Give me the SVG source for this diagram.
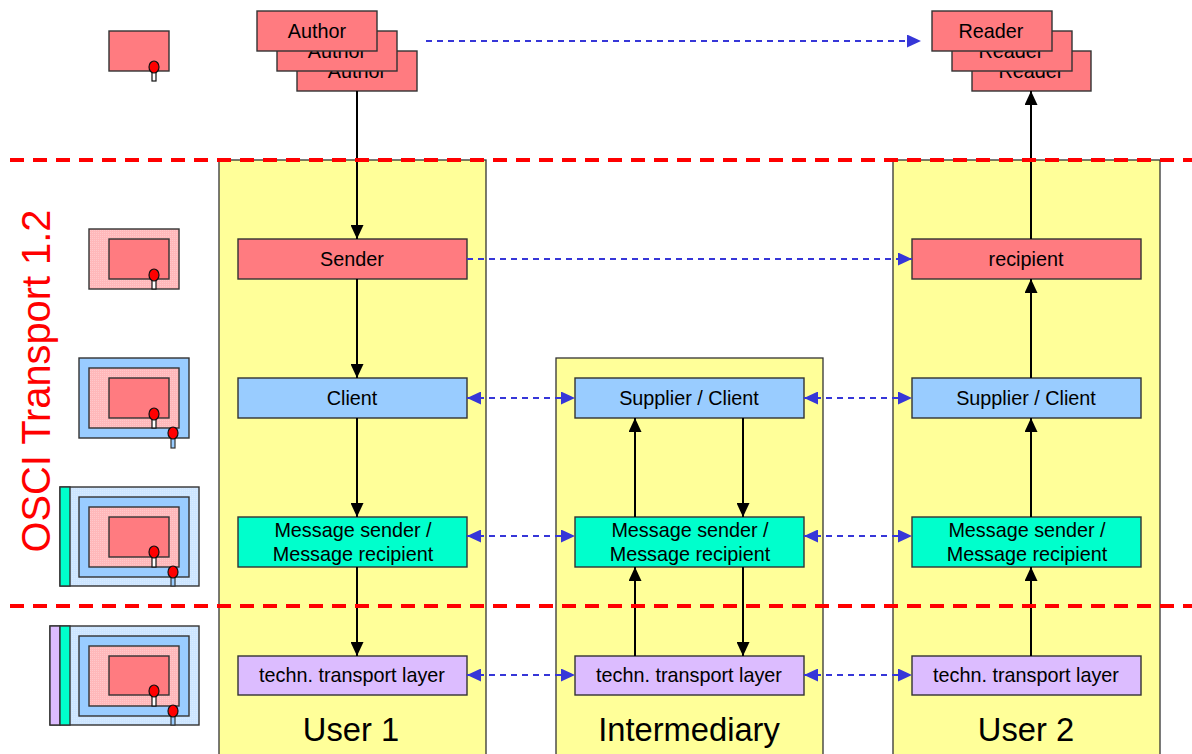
<svg xmlns="http://www.w3.org/2000/svg" width="1192" height="754" viewBox="0 0 1192 754">
<style>
text{font-family:"Liberation Sans",Arial,sans-serif;fill:#000;text-anchor:middle}
.lb{font-size:19.8px}
.big{font-size:32.7px}
.n{stroke:#333;stroke-width:1.4}
.red{fill:#ff7b80}
.blue{fill:#99ccff}
.teal{fill:#00ffcc}
.lil{fill:#dcbcff}
.yel{fill:#ffff99;stroke:#333;stroke-width:1.3}
.k{stroke:#000;stroke-width:2;fill:none;marker-end:url(#ah)}
.d{stroke:#3636d8;stroke-width:2;stroke-dasharray:6 5;fill:none;marker-end:url(#bh)}
.dd{stroke:#3636d8;stroke-width:2;stroke-dasharray:6 5;fill:none;marker-end:url(#bh);marker-start:url(#bs)}
.sep{stroke:#f00;stroke-width:4;stroke-dasharray:14 9;fill:none}
.pink{fill:url(#pp)}
.pale{fill:url(#pb)}
.pin{fill:#f00;stroke:#111;stroke-width:1.2}
.leg{fill:#fff;stroke:#111;stroke-width:1.2}
.leg2{fill:#99ccff;stroke:#333;stroke-width:1.2}
</style>
<defs>
<marker id="ah" markerUnits="userSpaceOnUse" markerWidth="14" markerHeight="13" refX="14" refY="6.5" orient="auto"><path d="M0 0L14 6.5L0 13Z" fill="#000"/></marker>
<marker id="bh" markerUnits="userSpaceOnUse" markerWidth="14" markerHeight="13" refX="14" refY="6.5" orient="auto"><path d="M0 0L14 6.5L0 13Z" fill="#3636d8"/></marker>
<marker id="bs" markerUnits="userSpaceOnUse" markerWidth="14" markerHeight="13" refX="0" refY="6.5" orient="auto"><path d="M14 0L0 6.5L14 13Z" fill="#3636d8"/></marker>
<pattern id="pp" width="2" height="2" patternUnits="userSpaceOnUse"><rect width="2" height="2" fill="#ffb8ba"/><rect width="1" height="1" fill="#ffc8ca"/></pattern>
<pattern id="pb" width="2" height="2" patternUnits="userSpaceOnUse"><rect width="2" height="2" fill="#cce5ff"/><rect width="1" height="1" fill="#d8ebff"/></pattern>
</defs>

<g id="col-user1"><rect class="yel" x="219" y="160" width="267" height="600"/><text class="big" x="351" y="741">User 1</text></g>
<g id="col-intermediary"><rect class="yel" x="556" y="358" width="267" height="402"/><text class="big" x="689" y="741">Intermediary</text></g>
<g id="col-user2"><rect class="yel" x="893" y="160" width="267" height="600"/><text class="big" x="1026" y="741">User 2</text></g>

<g id="authors">
<rect class="n red" x="297" y="51" width="120" height="40"/><text class="lb" x="357" y="78">Author</text>
<rect class="n red" x="277" y="31" width="120" height="40"/><text class="lb" x="337" y="58">Author</text>
<rect class="n red" x="257" y="11" width="120" height="40"/><text class="lb" x="317" y="38">Author</text>
</g>
<g id="readers">
<rect class="n red" x="972" y="51" width="119" height="40"/><text class="lb" x="1031" y="78">Reader</text>
<rect class="n red" x="952" y="31" width="120" height="40"/><text class="lb" x="1011" y="58">Reader</text>
<rect class="n red" x="932" y="11" width="120" height="40"/><text class="lb" x="991" y="38">Reader</text>
</g>

<g id="sender"><rect class="n red" x="238" y="239" width="229" height="40"/><text class="lb" x="352" y="266">Sender</text></g>
<g id="recipient"><rect class="n red" x="912" y="239" width="229" height="40"/><text class="lb" x="1026" y="266">recipient</text></g>
<g id="client"><rect class="n blue" x="238" y="378" width="229" height="40"/><text class="lb" x="352" y="405">Client</text></g>
<g id="supplier-mid"><rect class="n blue" x="575" y="378" width="229" height="40"/><text class="lb" x="689" y="405">Supplier / Client</text></g>
<g id="supplier-right"><rect class="n blue" x="912" y="378" width="229" height="40"/><text class="lb" x="1026" y="405">Supplier / Client</text></g>
<g id="msg-left"><rect class="n teal" x="238" y="517" width="229" height="50"/><text class="lb" x="353" y="537">Message sender /</text><text class="lb" x="353" y="561">Message recipient</text></g>
<g id="msg-mid"><rect class="n teal" x="575" y="517" width="229" height="50"/><text class="lb" x="690" y="537">Message sender /</text><text class="lb" x="690" y="561">Message recipient</text></g>
<g id="msg-right"><rect class="n teal" x="912" y="517" width="229" height="50"/><text class="lb" x="1027" y="537">Message sender /</text><text class="lb" x="1027" y="561">Message recipient</text></g>
<g id="tech-left"><rect class="n lil" x="238" y="656" width="229" height="39"/><text class="lb" x="352" y="682">techn. transport layer</text></g>
<g id="tech-mid"><rect class="n lil" x="575" y="656" width="229" height="39"/><text class="lb" x="689" y="682">techn. transport layer</text></g>
<g id="tech-right"><rect class="n lil" x="912" y="656" width="229" height="39"/><text class="lb" x="1026" y="682">techn. transport layer</text></g>

<g id="connectors">
<path class="k" d="M357 91V239"/><path class="k" d="M357 279V378"/><path class="k" d="M357 418V517"/><path class="k" d="M357 567V656"/>
<path class="k" d="M635 517V418"/><path class="k" d="M743 418V517"/><path class="k" d="M635 656V567"/><path class="k" d="M743 567V656"/>
<path class="k" d="M1031 656V567"/><path class="k" d="M1031 517V418"/><path class="k" d="M1031 378V279"/><path class="k" d="M1031 239V91"/>
<path class="d" d="M426 41H921"/><path class="d" d="M467 259H912"/>
<path class="dd" d="M467 398H575"/><path class="dd" d="M804 398H912"/>
<path class="dd" d="M467 536H575"/><path class="dd" d="M804 536H912"/>
<path class="dd" d="M467 675H575"/><path class="dd" d="M804 675H912"/>
</g>

<g id="separators"><path class="sep" d="M10 160H1192"/><path class="sep" d="M10 606H1192"/></g>
<text id="osci" x="0" y="0" transform="translate(50 381) rotate(-90)" font-size="39.8" style="fill:#f00">OSCI Transport 1.2</text>

<g id="legend-1">
<rect class="n red" x="109" y="31" width="60" height="40"/>
<rect class="leg" x="152" y="71" width="4" height="10"/><ellipse class="pin" cx="154" cy="67" rx="5" ry="6"/>
</g>
<g id="legend-2">
<rect class="n pink" x="89" y="229" width="90" height="60"/>
<rect class="n red" x="109" y="239" width="60" height="40"/>
<rect class="leg" x="152" y="279" width="4" height="10"/><ellipse class="pin" cx="154" cy="275" rx="5" ry="6"/>
</g>
<g id="legend-3">
<rect class="n blue" x="79" y="358" width="110" height="80"/>
<rect class="n pink" x="89" y="368" width="90" height="60"/>
<rect class="n red" x="109" y="378" width="60" height="40"/>
<rect class="leg" x="152" y="418" width="4" height="10"/><ellipse class="pin" cx="154" cy="414" rx="5" ry="6"/>
<rect class="leg2" x="171" y="438" width="4" height="10"/><ellipse class="pin" cx="173" cy="433" rx="5" ry="6"/>
</g>
<g id="legend-4">
<rect class="n pale" x="60" y="487" width="139" height="99"/>
<rect class="n teal" x="60" y="487" width="10" height="99"/>
<rect class="n blue" x="79" y="497" width="110" height="80"/>
<rect class="n pink" x="89" y="507" width="90" height="60"/>
<rect class="n red" x="109" y="517" width="60" height="40"/>
<rect class="leg" x="152" y="557" width="4" height="10"/><ellipse class="pin" cx="154" cy="552" rx="5" ry="6"/>
<rect class="leg2" x="171" y="577" width="4" height="9"/><ellipse class="pin" cx="173" cy="572" rx="5" ry="6"/>
</g>
<g id="legend-5">
<rect class="n pale" x="50" y="626" width="149" height="99"/>
<rect class="n lil" x="50" y="626" width="10" height="99"/>
<rect class="n teal" x="60" y="626" width="10" height="99"/>
<rect class="n blue" x="79" y="636" width="110" height="80"/>
<rect class="n pink" x="89" y="646" width="90" height="60"/>
<rect class="n red" x="109" y="656" width="60" height="39"/>
<rect class="leg" x="152" y="696" width="4" height="10"/><ellipse class="pin" cx="154" cy="691" rx="5" ry="6"/>
<rect class="leg2" x="171" y="716" width="4" height="9"/><ellipse class="pin" cx="173" cy="711" rx="5" ry="6"/>
</g>
</svg>
